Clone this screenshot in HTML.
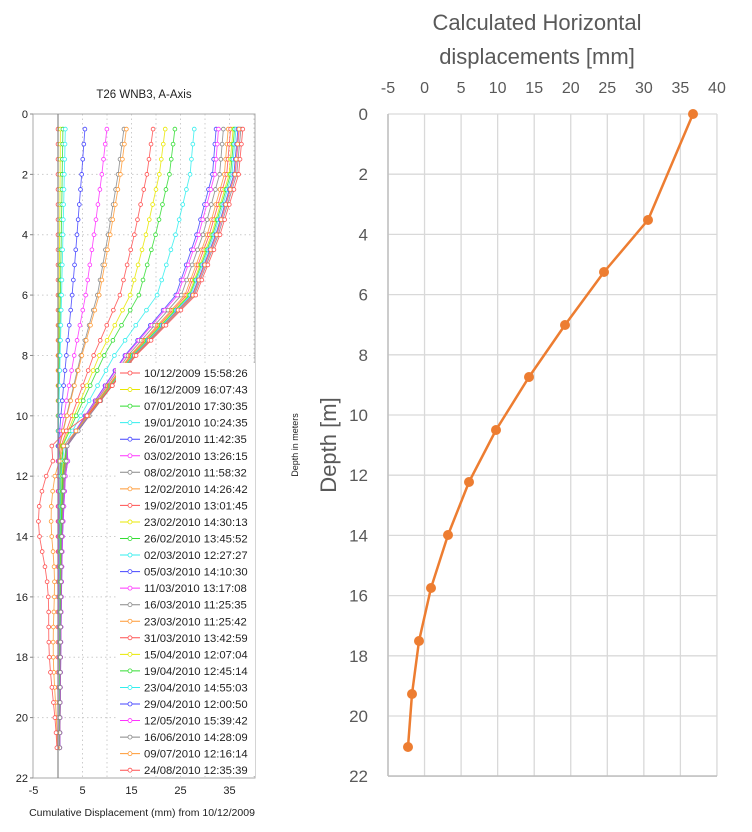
<!DOCTYPE html>
<html><head><meta charset="utf-8">
<style>
html,body{margin:0;padding:0;background:#fff;}
svg{display:block;}
</style></head>
<body>
<svg id="s" width="752" height="832" xmlns="http://www.w3.org/2000/svg">
<rect width="752" height="832" fill="#fff"/>
<text x="144" y="98" font-family="Liberation Sans, sans-serif" font-size="11.5" text-anchor="middle" fill="#222">T26 WNB3, A-Axis</text>
<g id="lg"></g>
<g id="lseries"></g>
<rect x="33" y="114" width="222" height="664" fill="none" stroke="#aaa" stroke-width="1"/>
<line x1="58" y1="114" x2="58" y2="778" stroke="#888" stroke-width="1.2"/>
<g id="legend" font-family="Liberation Sans, sans-serif" font-size="11.3" fill="#222"></g>
<g id="lticks" font-family="Liberation Sans, sans-serif" font-size="11" fill="#222"></g>
<text x="142" y="816" font-family="Liberation Sans, sans-serif" font-size="10.5" text-anchor="middle" fill="#222">Cumulative Displacement (mm) from 10/12/2009</text>
<text transform="translate(298,445) rotate(-90)" font-family="Liberation Sans, sans-serif" font-size="9" text-anchor="middle" fill="#222">Depth in meters</text>

<text x="537" y="30" font-family="Liberation Sans, sans-serif" font-size="22" text-anchor="middle" fill="#595959">Calculated Horizontal</text>
<text x="537" y="64" font-family="Liberation Sans, sans-serif" font-size="22" text-anchor="middle" fill="#595959">displacements [mm]</text>
<g id="rgrid"></g>
<text transform="translate(336,445) rotate(-90)" font-family="Liberation Sans, sans-serif" font-size="22" text-anchor="middle" fill="#595959">Depth [m]</text>
<polyline id="rline" fill="none" stroke="#ED7D31" stroke-width="2.5" stroke-linejoin="round"/>
<g id="rpts" fill="#ED7D31"></g>
</svg>
<script>
var NS="http://www.w3.org/2000/svg";
function el(p,t,a,txt){var e=document.createElementNS(NS,t);for(var k in a)e.setAttribute(k,a[k]);if(txt!==undefined)e.textContent=txt;p.appendChild(e);return e;}
var X=function(v){return 58+v*4.9;}, Y=function(d){return 114+d*30.18;};
var lg=document.getElementById('lg');
for(var v=0;v<=40;v+=5){ el(lg,'line',{x1:X(v),y1:114,x2:X(v),y2:778,stroke:'#ccc','stroke-dasharray':'1.5,3'});}
for(var d=2;d<22;d+=2){ el(lg,'line',{x1:33,y1:Y(d),x2:255,y2:Y(d),stroke:'#ccc','stroke-dasharray':'1.5,3'});}
var lt=document.getElementById('lticks');
for(var d=0;d<=22;d+=2){el(lt,'text',{x:28,y:Y(d)+4,'text-anchor':'end'},d);el(lt,'line',{x1:30,y1:Y(d),x2:33,y2:Y(d),stroke:'#888'});}
[-5,5,15,25,35].forEach(function(v){el(lt,'text',{x:X(v),y:794,'text-anchor':'middle'},v);});
var cols=['#ff5050','#e8e800','#33dd33','#33eeee','#4444ff','#ff33ff','#888888','#ff9933'];
var tops=[0,0.5,1,1.5,5.5,10,13.5,14,19.5,22,24,28,32.5,33,34,35,35.5,36,36.3,36.6,37,37.3,37.6,37.2,38];
var lateD=[0,2,4,6,8,10,11,12,14,16,22], lateV=[1,0.97,0.87,0.74,0.42,0.17,0.05,0.025,0.012,0.008,0];
function interp(d,xs,ys){for(var i=0;i<xs.length-1;i++){if(d<=xs[i+1]){var t=(d-xs[i])/(xs[i+1]-xs[i]);return ys[i]+t*(ys[i+1]-ys[i]);}}return 0;}
var ls=document.getElementById('lseries');
for(var s=0;s<25;s++){
  var T=tops[s], w=Math.min(1,T/30), c=cols[s%8];
  var pts=[],mk=[];
  for(var d=0.5;d<=21.01;d+=0.5){
    var early=Math.max(0,1-(d-0.5)/10.5);
    var g=(1-w)*early+w*interp(d,lateD,lateV);
    var v=T*g;
    if(s==24){ v+= -4.5*Math.exp(-Math.pow((d-13.2)/2.2,2)) - 2*Math.exp(-Math.pow((d-17.5)/2.5,2)); if(d>=10.5&&d<11.5)v-=1.5;}
    if(s==23){ v+= -2*Math.exp(-Math.pow((d-13)/2,2)) - 1.2*Math.exp(-Math.pow((d-17.5)/2.5,2));}
    if(s>0&&s<23&&d>11) v+=0.3+0.4*Math.sin(s)*Math.exp(-(d-11)/4);
    pts.push(X(v).toFixed(1)+','+Y(d).toFixed(1)); mk.push([X(v),Y(d)]);
  }
  el(ls,'polyline',{points:pts.join(' '),fill:'none',stroke:c,'stroke-width':0.9,opacity:0.85});
  mk.forEach(function(p){el(ls,'circle',{cx:p[0],cy:p[1],r:1.9,fill:'#fff',stroke:c,'stroke-width':0.8});});
}
var dates=['10/12/2009 15:58:26','16/12/2009 16:07:43','07/01/2010 17:30:35','19/01/2010 10:24:35','26/01/2010 11:42:35','03/02/2010 13:26:15','08/02/2010 11:58:32','12/02/2010 14:26:42','19/02/2010 13:01:45','23/02/2010 14:30:13','26/02/2010 13:45:52','02/03/2010 12:27:27','05/03/2010 14:10:30','11/03/2010 13:17:08','16/03/2010 11:25:35','23/03/2010 11:25:42','31/03/2010 13:42:59','15/04/2010 12:07:04','19/04/2010 12:45:14','23/04/2010 14:55:03','29/04/2010 12:00:50','12/05/2010 15:39:42','16/06/2010 14:28:09','09/07/2010 12:16:14','24/08/2010 12:35:39'];
var lgd=document.getElementById('legend');
el(lgd,'rect',{x:116,y:363,width:139,height:413,fill:'#fff'});
for(var i=0;i<dates.length;i++){
  var y=377+i*16.55, c=cols[i%8];
  el(lgd,'line',{x1:120,y1:y-4,x2:140,y2:y-4,stroke:c,'stroke-width':1});
  el(lgd,'circle',{cx:130,cy:y-4,r:2,fill:'#fff',stroke:c,'stroke-width':0.8});
  el(lgd,'text',{x:144,y:y},dates[i]);
}
var RX=function(v){return 388+(v+5)*7.31;}, RY=function(d){return 114+d*30.1;};
var rg=document.getElementById('rgrid');
for(var v=-5;v<=40;v+=5){el(rg,'line',{x1:RX(v),y1:114,x2:RX(v),y2:776,stroke:'#d9d9d9','stroke-width':1.3});
 el(rg,'text',{x:RX(v),y:93,'text-anchor':'middle','font-family':'Liberation Sans, sans-serif','font-size':16,fill:'#595959'},v);}
for(var d=0;d<=22;d+=2){el(rg,'line',{x1:388,y1:RY(d),x2:717,y2:RY(d),stroke:'#d9d9d9','stroke-width':1.3});
 el(rg,'text',{x:368,y:RY(d)+6,'text-anchor':'end','font-family':'Liberation Sans, sans-serif','font-size':17,fill:'#595959'},d);}
el(rg,'line',{x1:388,y1:114,x2:388,y2:776,stroke:'#bfbfbf','stroke-width':1.5});
el(rg,'line',{x1:388,y1:776,x2:717,y2:776,stroke:'#bfbfbf','stroke-width':1.5});
var P=[[693,114],[648,220],[604,272],[565,325],[529,377],[496,430],[469,482],[448,535],[431,588],[419,641],[412,694],[408,747]];
document.getElementById('rline').setAttribute('points',P.map(function(p){return p.join(',');}).join(' '));
var rp=document.getElementById('rpts');
P.forEach(function(p){el(rp,'circle',{cx:p[0],cy:p[1],r:5});});
</script>
</body></html>
